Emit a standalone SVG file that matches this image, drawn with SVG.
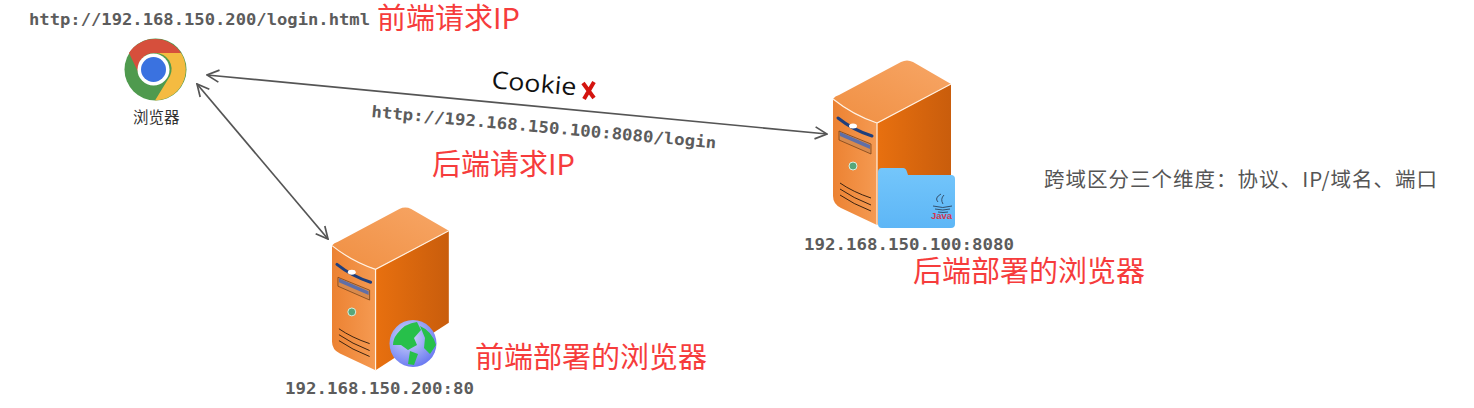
<svg xmlns="http://www.w3.org/2000/svg" width="1474" height="408" viewBox="0 0 1474 408">
<style>
.mono{font-family:"DejaVu Sans Mono","Liberation Mono",monospace;font-weight:bold;font-size:16px;fill:#5c5c5c}
.red{font-family:"Noto Sans CJK SC","Noto Sans",sans-serif;fill:#f63c3c;font-size:29px}
.note{font-family:"Noto Sans CJK SC","Noto Sans",sans-serif;fill:#555;font-size:20.5px}
.conn{fill:none;stroke:#555;stroke-width:1.7;marker-start:url(#open);marker-end:url(#open)}
.vent{fill:none;stroke:#3a2210;stroke-width:1}
</style>
<defs>
<marker id="open" viewBox="0 0 16 14" refX="15" refY="7" markerWidth="16" markerHeight="14" markerUnits="userSpaceOnUse" orient="auto-start-reverse">
<path d="M3 1L15 7L3 13" fill="none" stroke="#555" stroke-width="1.7"/>
</marker>
<linearGradient id="front" x1="0" y1="0" x2="1" y2="0"><stop offset="0" stop-color="#ec8232"/><stop offset="1" stop-color="#f59a52"/></linearGradient>
<linearGradient id="side" x1="0" y1="0" x2="1" y2="0"><stop offset="0" stop-color="#e8700f"/><stop offset="1" stop-color="#c95d0c"/></linearGradient>
<linearGradient id="top" x1="0" y1="1" x2="1" y2="0"><stop offset="0" stop-color="#f08f42"/><stop offset="1" stop-color="#f7a666"/></linearGradient>
<linearGradient id="folder" x1="0" y1="0" x2="0" y2="1"><stop offset="0" stop-color="#74c6fb"/><stop offset="1" stop-color="#5db6f6"/></linearGradient>
<radialGradient id="earth" cx="0.4" cy="0.35" r="0.75"><stop offset="0" stop-color="#d5dcfb"/><stop offset="1" stop-color="#5f6ff0"/></radialGradient>
<symbol id="server" overflow="visible">
<path d="M0 39Q2 36 6 35L68 2Q74 -1 80 2L118 24L44 63Q20 55 0 39Z" fill="url(#top)"/>
<path d="M44 63L118 24V117L44 165Z" fill="url(#side)"/>
<path d="M0 39Q20 55 44 63V165L8 148Q0 144 0 136Z" fill="url(#front)"/>
<path d="M0 39Q20 55 44 63L118 24M44 63V165" fill="none" stroke="#fff1e2" stroke-width="1.2"/>
<path d="M5 58Q20 70 39 76" fill="none" stroke="#1f3f7d" stroke-width="3" stroke-linecap="round"/>
<ellipse cx="20" cy="66" rx="4" ry="2.500" fill="#fff"/>
<path d="M6 71L38 84V94L6 80Z" fill="#d98a4c" stroke="#6b3a14" stroke-width=".7"/>
<path d="M7 72L37 85V89L7 76Z" fill="#5f6fa8"/>
<circle cx="20" cy="106" r="4" fill="#56a77a" stroke="#d7efe0" stroke-width="1"/>
<path class="vent" d="M7 123Q20 132 38 138M7 129Q20 138 38 145M7 135Q20 144 38 151"/>
</symbol>
</defs>

<g id="connectors">
<path class="conn" d="M207 75L827 134"/>
<path class="conn" d="M197 84L328 239"/>
</g>

<g id="browser">
<circle cx="155.500" cy="69.500" r="31" fill="#4f9a4e"/>
<path d="M129 53A31 31 0 0 1 181 53H155.500A16 16 0 0 0 141 78Z" fill="#d64f3c"/>
<path d="M181 53A31 31 0 0 1 155 100.500L170 76A16 16 0 0 0 155.500 53Z" fill="#f4bb41"/>
<circle cx="153.500" cy="69.500" r="16" fill="#fff"/>
<circle cx="153.500" cy="69.500" r="12.500" fill="#3a72e0"/>
<text x="133" y="122.500" font-family="'Noto Sans CJK SC',sans-serif" font-size="15.500" fill="#333">浏览器</text>
</g>
<text id="frontend-url" class="mono" x="29" y="25" textLength="341" lengthAdjust="spacingAndGlyphs">http://192.168.150.200/login.html</text>
<text id="frontend-ip-label" class="red" x="377" y="29">前端请求IP</text>

<g id="cookie">
<text x="491" y="88" transform="rotate(5 491 88)" font-family="'Open Sans',sans-serif" font-size="24" fill="#111" textLength="85" lengthAdjust="spacingAndGlyphs">Cookie</text>
<path d="M583 83L594 98M594 82L584 99" fill="none" stroke="#d4140f" stroke-width="4"/>
</g>
<text id="backend-url" class="mono" x="371" y="117" transform="rotate(5.200 371 117)" textLength="346" lengthAdjust="spacingAndGlyphs">http://192.168.150.100:8080/login</text>
<text id="backend-ip-label" class="red" x="432" y="175">后端请求IP</text>

<g id="backend-server">
<use href="#server" x="833" y="60"/>
<path d="M878 172Q878 168 882 168H903Q906 168 907 172L908 175H951Q955 175 955 179V224Q955 228 951 228H882Q878 228 878 224Z" fill="url(#folder)"/>
<path d="M938 202Q934 198 941 194M943 204Q940 199 944 195M933 206Q943 209 952 206M935 209Q943 211 950 209M938 212Q943 213 948 212" fill="none" stroke="#33506e" stroke-width="1"/>
<text x="931" y="219" font-family="'Liberation Sans',sans-serif" font-size="9.500" font-weight="bold" fill="#d4364f">Java</text>
<text class="mono" x="804" y="250" textLength="210" lengthAdjust="spacingAndGlyphs">192.168.150.100:8080</text>
</g>
<text id="backend-label" class="red" x="913" y="282">后端部署的浏览器</text>

<g id="frontend-server">
<use href="#server" x="332" y="207" transform="translate(332 207) scale(.99) translate(-332 -207)"/>
<circle cx="413" cy="343.500" r="23.500" fill="url(#earth)"/>
<path d="M397 334Q405 323 417 322L421 330L414 338L417 345L408 350L401 345L393 345Q393 339 397 334ZM420 326Q432 331 436 345L430 354L424 348L425 338ZM410 351L418 354L414 365L408 364Z" fill="#27c04a"/>
<text class="mono" x="285" y="394" textLength="189" lengthAdjust="spacingAndGlyphs">192.168.150.200:80</text>
</g>
<text id="frontend-label" class="red" x="475" y="368">前端部署的浏览器</text>

<text id="note" class="note" x="1044" y="187" textLength="393">跨域区分三个维度：协议、IP/域名、端口</text>
</svg>
